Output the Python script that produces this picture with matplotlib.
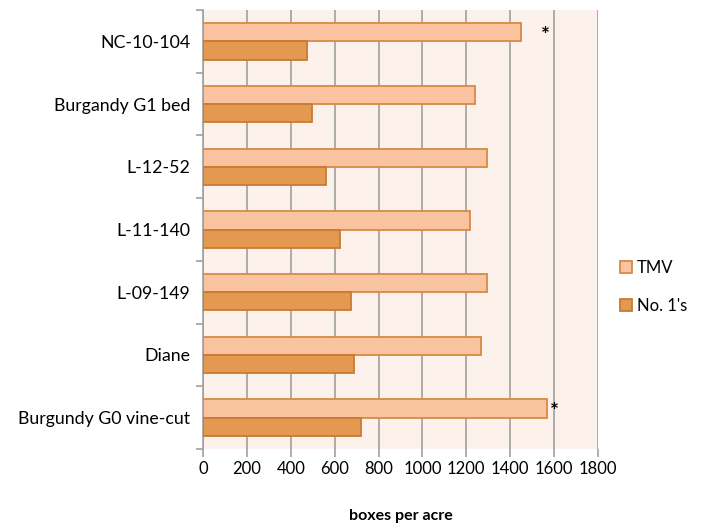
import matplotlib
matplotlib.use("Agg")
import matplotlib.pyplot as plt
import numpy as np

plt.rcParams['font.family'] = ['Lato', 'DejaVu Sans']

# data, bottom to top as drawn
lines = ["Burgundy G0 vine-cut", "Diane", "L-09-149", "L-11-140",
         "L-12-52", "Burgandy G1 bed", "NC-10-104"]
tmv = [1566, 1267, 1294, 1216, 1292, 1241, 1449]
no1 = [718, 688, 674, 624, 560, 498, 472]
stars = {"Burgundy G0 vine-cut": 1600, "NC-10-104": 1560}

fig = plt.figure(figsize=(7.15, 5.27), dpi=100)
ax = fig.add_axes([203/715, 1 - 449/527, 395/715, 439/527])
ax.set_facecolor('#FDF1EB')

y = np.arange(len(lines))
h = 0.29
ax.barh(y + h/2, tmv, height=h, color='#FAC3A0', edgecolor='#D68A45',
        linewidth=1.3, label='TMV', zorder=3)
ax.barh(y - h/2, no1, height=h, color='#E39A50', edgecolor='#C97A35',
        linewidth=1.3, label="No. 1's", zorder=3)

for i, name in enumerate(lines):
    if name in stars:
        ax.text(stars[name], y[i] + h/2 - 0.06, '*', fontsize=15, va='center',
                ha='center', fontweight='bold', zorder=4)

ax.set_xlim(0, 1800)
ax.set_ylim(-0.5, len(lines) - 0.5)
ax.set_xticks(np.arange(0, 1801, 200))
ax.set_yticks(y)
ax.set_yticklabels(lines, fontsize=12.8)
ax.set_yticks(np.arange(-0.5, len(lines), 1), minor=True)
ax.tick_params(axis='y', which='major', length=0, pad=9)
ax.tick_params(axis='y', which='minor', length=5, color='#A0A0A0', width=1.2)
ax.tick_params(axis='x', length=6, color='#A0A0A0', width=1.2, labelsize=12, pad=3)
ax.grid(axis='x', color='#A6A6A6', linewidth=1.3, zorder=0)
ax.set_axisbelow(True)
for s in ['top', 'bottom', 'right']:
    ax.spines[s].set_visible(False)
ax.spines['left'].set_color('#A0A0A0')
ax.spines['left'].set_linewidth(1.2)

ax.set_xlabel('boxes per acre', fontsize=11.5, fontweight='bold', labelpad=23)

handles, labels = ax.get_legend_handles_labels()
fig.legend(handles, labels, loc='center left', bbox_to_anchor=(605/715, 1 - 287/527),
           frameon=False, fontsize=12, handlelength=0.7, handleheight=0.7,
           handletextpad=0.3, labelspacing=1.3)

fig.savefig('out.png', dpi=100)
